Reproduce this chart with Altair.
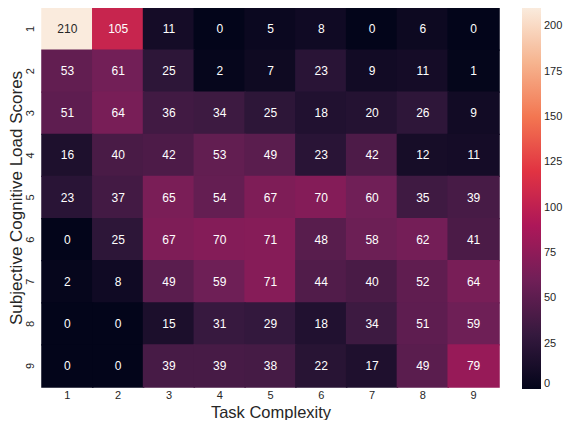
import altair as alt
import pandas as pd

rows = [1, 2, 3, 4, 5, 6, 7, 8, 9]
cols = [1, 2, 3, 4, 5, 6, 7, 8, 9]
values = [
    [210, 105, 11, 0, 5, 8, 0, 6, 0],
    [53, 61, 25, 2, 7, 23, 9, 11, 1],
    [51, 64, 36, 34, 25, 18, 20, 26, 9],
    [16, 40, 42, 53, 49, 23, 42, 12, 11],
    [23, 37, 65, 54, 67, 70, 60, 35, 39],
    [0, 25, 67, 70, 71, 48, 58, 62, 41],
    [2, 8, 49, 59, 71, 44, 40, 52, 64],
    [0, 0, 15, 31, 29, 18, 34, 51, 59],
    [0, 0, 39, 39, 38, 22, 17, 49, 79],
]
legend_ticks = [0, 25, 50, 75, 100, 125, 150, 175, 200]
rocket = ["#03051a", "#35193e", "#701f57", "#ad1759", "#e13342", "#f37651", "#f6b48f", "#faebdd"]

recs = []
for i, r in enumerate(rows):
    for j, c in enumerate(cols):
        recs.append({"row": r, "col": c, "v": values[i][j]})
df = pd.DataFrame(recs)

FONT = "Arial, Liberation Sans"
DARK = "#262626"

cscale = alt.Scale(domain=[0, 210], range=rocket, interpolate="rgb")

base = alt.Chart(df).encode(
    x=alt.X("col:O", title="Task Complexity",
            scale=alt.Scale(paddingInner=0, paddingOuter=0),
            axis=alt.Axis(labelAngle=0, ticks=False, domain=False, grid=False, labelPadding=2,
                          labelFontSize=11, labelColor=DARK, titleFontSize=16.5,
                          titleColor=DARK, titleFontWeight="normal",
                          titleY=30, titleBaseline="alphabetic",
                          labelFont=FONT, titleFont=FONT)),
    y=alt.Y("row:O", title="Subjective Cognitive Load Scores",
            scale=alt.Scale(paddingInner=0, paddingOuter=0),
            axis=alt.Axis(labelAngle=270, labelAlign="center", labelBaseline="middle",
                          ticks=False, domain=False, grid=False, labelPadding=12,
                          labelFontSize=11, labelColor=DARK, titleFontSize=17,
                          titleColor=DARK, titleFontWeight="normal",
                          titleX=-26, titleBaseline="middle",
                          labelFont=FONT, titleFont=FONT)),
)

rect = base.mark_rect(
    strokeWidth=0,
    width=alt.RelativeBandSize(1.03),
    height=alt.RelativeBandSize(1.03),
).encode(
    color=alt.Color("v:Q", scale=cscale,
                    legend=alt.Legend(title=None, values=legend_ticks, gradientLength=381,
                                      gradientThickness=19, offset=23, labelFontSize=11,
                                      labelColor=DARK, labelFont=FONT, labelOffset=3,
                                      direction="vertical", gradientStrokeWidth=0)),
)

text = base.mark_text(fontSize=12, font=FONT).encode(
    text=alt.Text("v:Q"),
    color=alt.condition(alt.datum.v > 150, alt.value(DARK), alt.value("white")),
)

chart = (rect + text).properties(
    width=457, height=379,
    autosize=alt.AutoSizeParams(type="none"),
    padding={"left": 34, "top": 0, "right": 64, "bottom": 33},
).configure_view(stroke=None)

chart.save("out.html", embed_options={"renderer": "svg", "actions": False})
